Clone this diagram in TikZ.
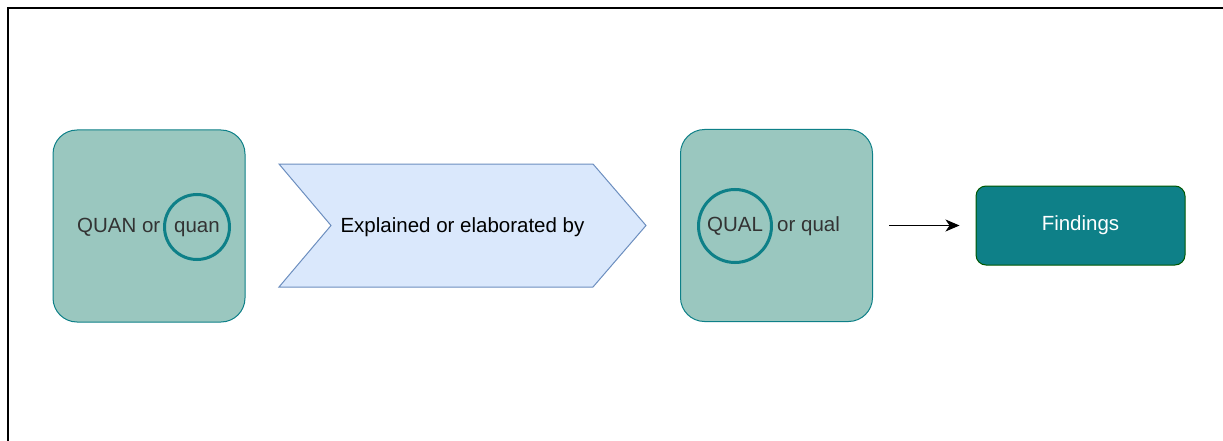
\documentclass[tikz,border=0pt]{standalone}
\usepackage{fontspec}
\setmainfont{Liberation Sans}
\usetikzlibrary{positioning,arrows.meta}

\definecolor{tealfill}{HTML}{9AC7BF}
\definecolor{tealline}{HTML}{0E8088}
\definecolor{stepfill}{HTML}{DAE8FC}
\definecolor{stepline}{HTML}{6C8EBF}
\definecolor{findline}{HTML}{005700}
\definecolor{labeltext}{HTML}{333333}

\begin{document}
\begin{tikzpicture}[x=1pt, y=-1pt,
    txt/.style={font=\fontsize{20.5}{24}\selectfont, text height=15pt,
      text depth=5pt, inner sep=0pt},
    phase/.style={rectangle, rounded corners=24pt, draw=tealline,
      fill=tealfill, line width=1pt, minimum width=192pt,
      minimum height=192pt},
    ring/.style={circle, draw=tealline, line width=3pt, inner sep=0pt,
      txt, text=labeltext},
    stepbox/.style={draw=stepline, fill=stepfill, line width=1pt},
    result/.style={rectangle, rounded corners=10pt, draw=findline,
      fill=tealline, line width=1pt, minimum width=209pt,
      minimum height=79pt, txt, text=white},
    line/.style={-{Stealth[length=14pt, width=12pt, inset=4pt]},
      line width=1.2pt}
  ]
    \useasboundingbox (0,0) rectangle (1223,441);
    \draw[line width=1.8pt] (8,441) -- (8,8) -- (1223,8);

    % Fases
    \node[phase] (quanbox) at (149,226) {};
    \node[phase] (qualbox) at (776.5,225.5) {};
    \node[result] (findings) at (1080.5,225.5) {Findings};

    % Etiquetas
    \node[ring, minimum size=65pt] (quan) at (197,227) {quan};
    \node[txt, text=labeltext, left=2.5pt of quan] (quanor) {QUAN or};
    \node[ring, minimum size=73pt] (qual) at (735,226) {QUAL};
    \node[txt, text=labeltext, right=4pt of qual] (qualor) {or qual};

    % Paso intermedio
    \draw[stepbox] (279,164) -- (593,164) -- (646,225.5) -- (593,287)
      -- (279,287) -- (331,225.5) -- cycle;
    \node[txt] (explain) at (462.5,227) {Explained or elaborated by};

    \draw[line] ([xshift=16pt]qualbox.east) -- ([xshift=-16pt]findings.west);
  \end{tikzpicture}
\end{document}
